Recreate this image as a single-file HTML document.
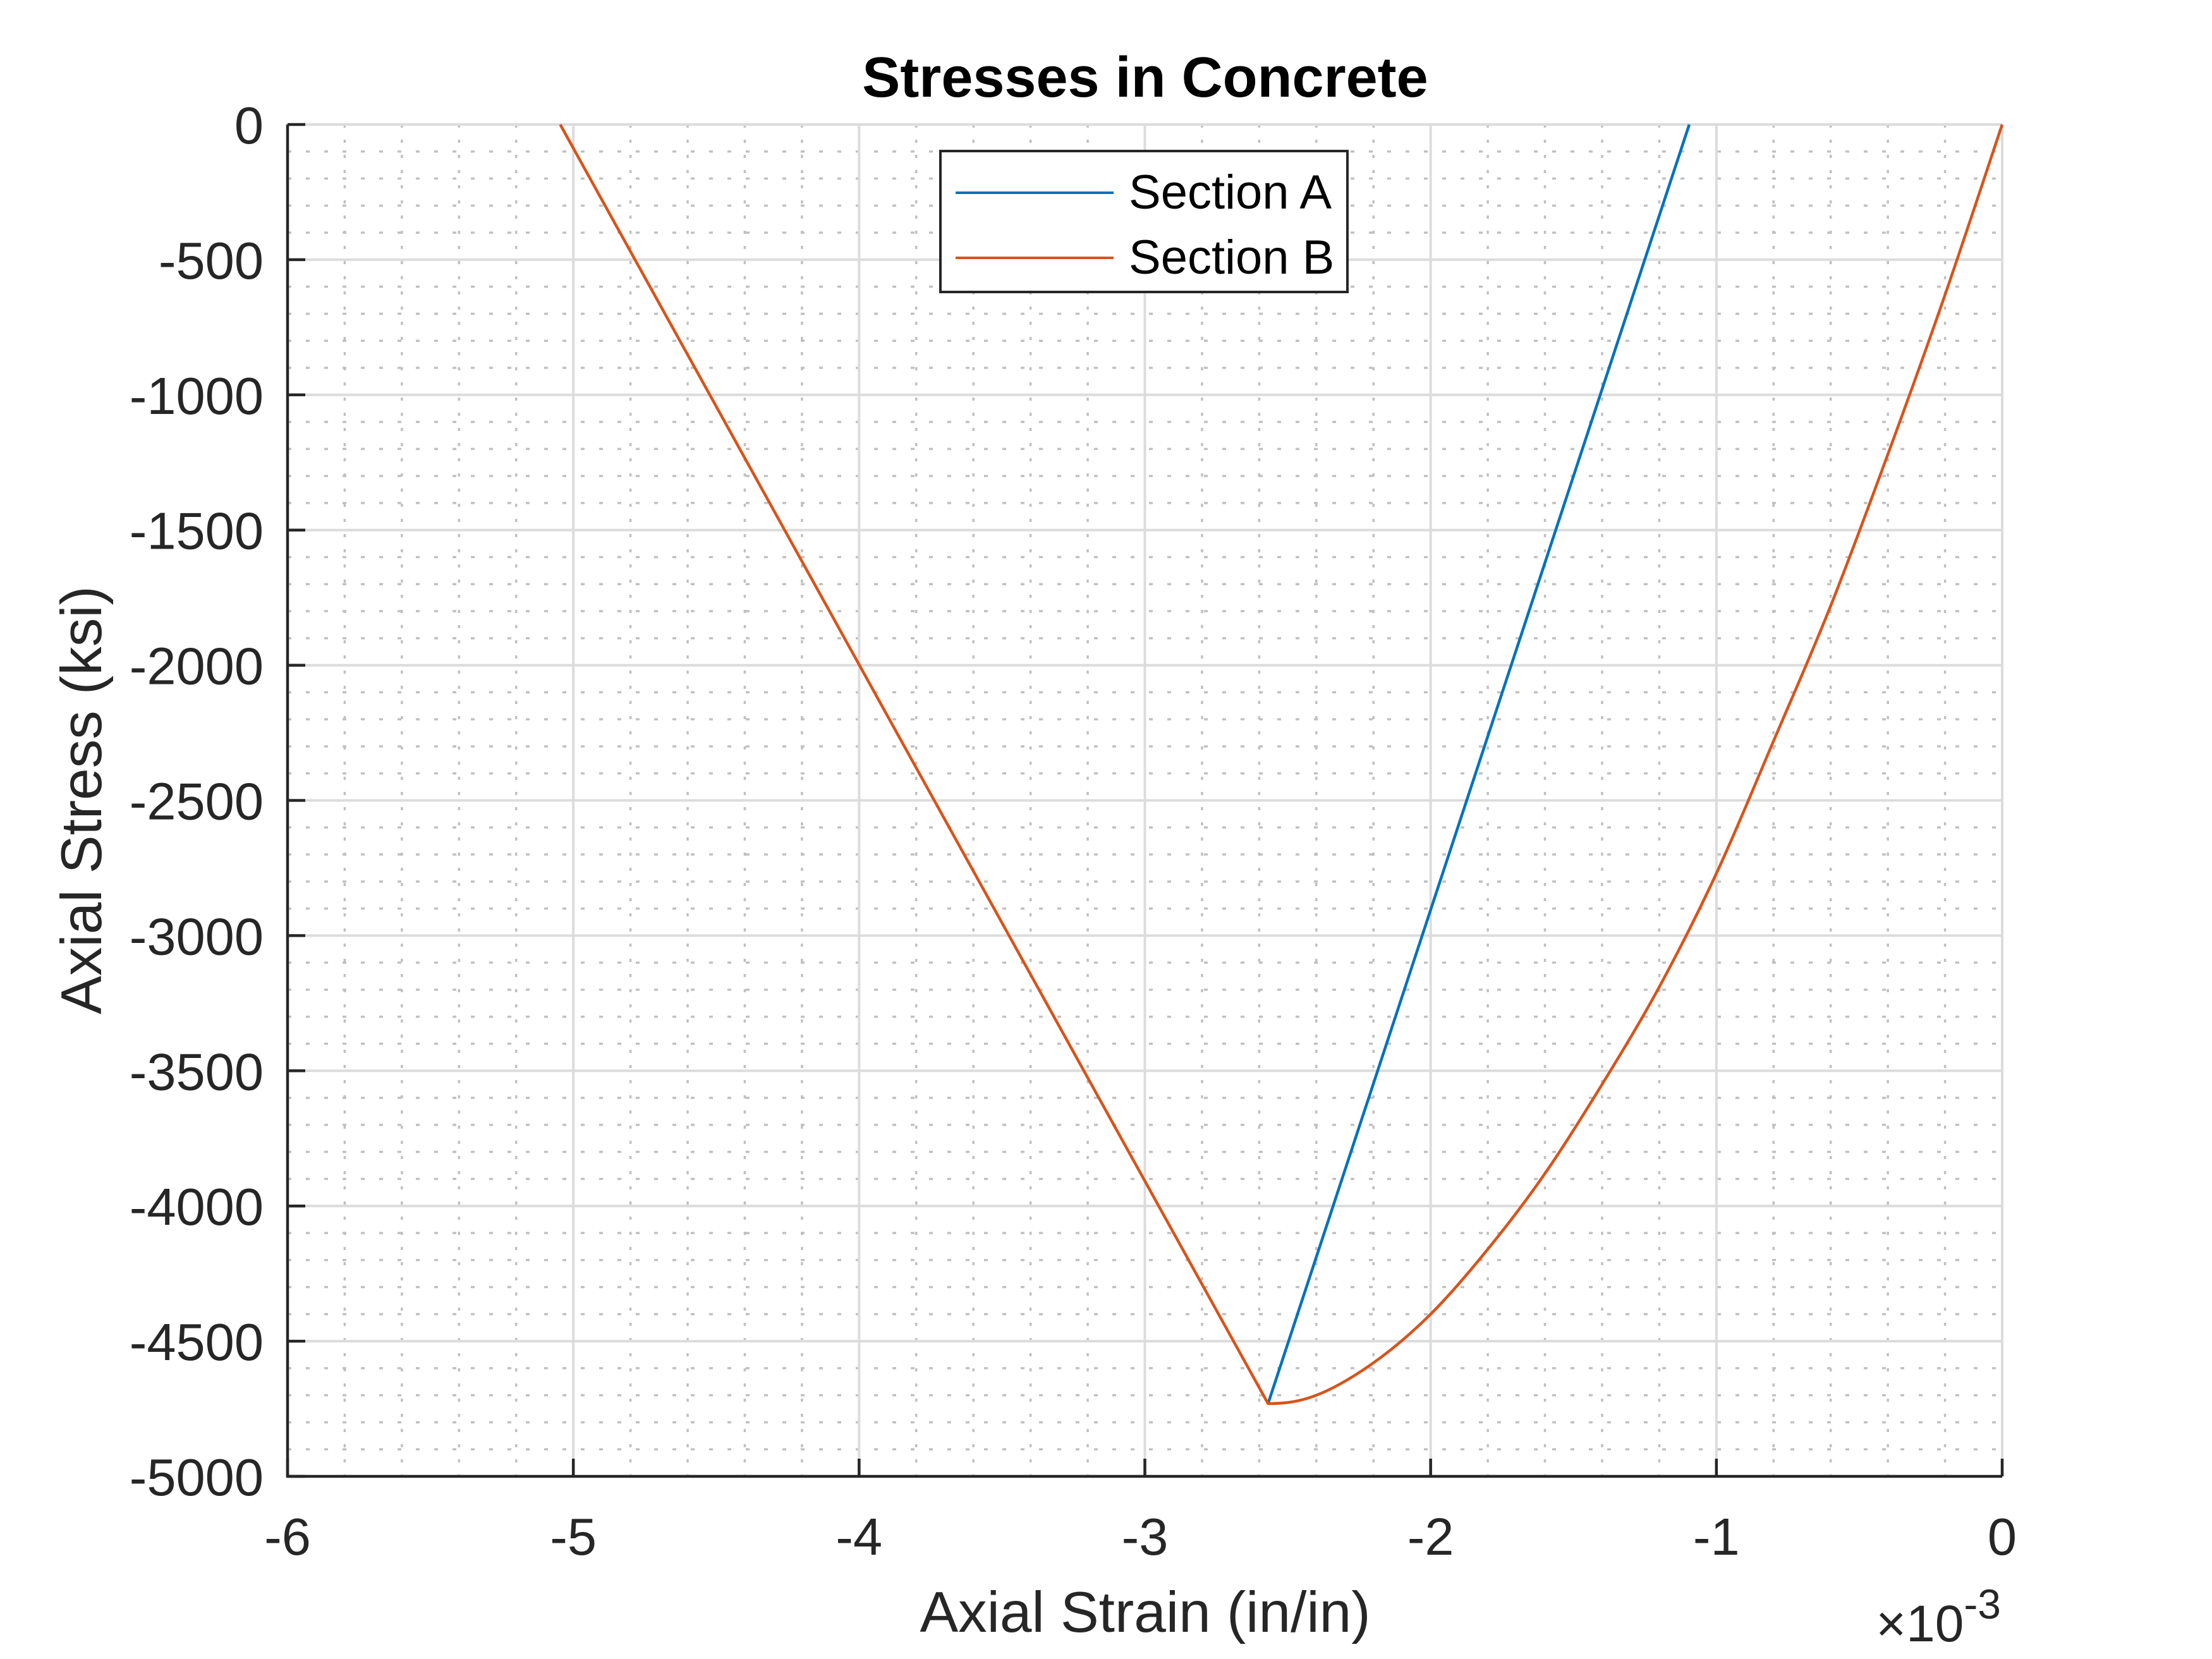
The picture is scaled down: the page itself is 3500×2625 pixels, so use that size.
<!DOCTYPE html>
<html><head><meta charset="utf-8"><style>
html,body{margin:0;padding:0;background:#fff;}
svg{display:block;font-family:"Liberation Sans",Arial,sans-serif;}
</style></head><body>
<svg id="chart" width="3500" height="2625" viewBox="0 0 3500 2625" xmlns="http://www.w3.org/2000/svg">
<rect x="0" y="0" width="3500" height="2625" fill="#fff"/>
<g id="grid"></g>
<g id="series"></g>
<g id="axes"></g>
<text x="1812" y="153" font-size="90" font-weight="bold" text-anchor="middle" fill="#000">Stresses in Concrete</text>
<text x="1812" y="2582" font-size="91" text-anchor="middle" fill="#262626">Axial Strain (in/in)</text>
<text transform="translate(160,1266) rotate(-90)" font-size="91" text-anchor="middle" fill="#262626">Axial Stress (ksi)</text>
<text x="3166" y="2597" font-size="82" text-anchor="end" fill="#262626">×10<tspan font-size="66" dy="-36">-3</tspan></text>
<g>
<rect x="1488" y="239" width="644" height="223" fill="#fff" stroke="#262626" stroke-width="4"/>
<line x1="1512" y1="305" x2="1762" y2="305" stroke="#0072BD" stroke-width="4"/>
<text x="1786" y="330" font-size="76" fill="#000">Section A</text>
<line x1="1512" y1="408" x2="1762" y2="408" stroke="#D95319" stroke-width="4"/>
<text x="1786" y="433" font-size="76" fill="#000">Section B</text>
</g>
</svg>
<script>
const xTicks = [-6,-5,-4,-3,-2,-1,0];
const xTickLabels = ["-6","-5","-4","-3","-2","-1","0"];
const yTicks = [0,-500,-1000,-1500,-2000,-2500,-3000,-3500,-4000,-4500,-5000];
const yTickLabels = ["0","-500","-1000","-1500","-2000","-2500","-3000","-3500","-4000","-4500","-5000"];
const sectionAStrain = [-2.569,-1.095];
const sectionAStress = [-4731,0];
const sectionBStrain = [-5.046,-2.569,-2.4,-2.2,-2.0,-1.8,-1.6,-1.4,-1.2,-1.0,-0.8,-0.6,-0.4,-0.2,0];
const sectionBStress = [0,-4731,-4700,-4580,-4400,-4160,-3880,-3550,-3190,-2770,-2280,-1780,-1220,-630,0];

const L=455,R=3168,T=197,B=2336;
const xMin=-6,xMax=0,yMin=-5000,yMax=0;
const sx=v=>L+(v-xMin)/(xMax-xMin)*(R-L);
const sy=v=>T+(yMax-v)/(yMax-yMin)*(B-T);
const NS='http://www.w3.org/2000/svg';
function mk(tag,parent,attrs){const e=document.createElementNS(NS,tag);for(const k in attrs)e.setAttribute(k,attrs[k]);parent.appendChild(e);return e;}
const grid=document.getElementById('grid'),series=document.getElementById('series'),axes=document.getElementById('axes');

for(let i=0;i<=30;i++){ if(i%5===0)continue; const v=xMin+i*0.2;
  const l=mk('line',grid,{x1:sx(v),y1:T,x2:sx(v),y2:B,stroke:'#c0c0c0','stroke-width':3.5,'stroke-dasharray':'5 19'});
  
  
}
for(let i=0;i<=50;i++){ if(i%5===0)continue; const v=-i*100;
  const l=mk('line',grid,{x1:L,y1:sy(v),x2:R,y2:sy(v),stroke:'#c0c0c0','stroke-width':3.5,'stroke-dasharray':'6 23'});
  
  
}
xTicks.forEach(v=>{
  const l=mk('line',grid,{x1:sx(v),y1:T,x2:sx(v),y2:B,stroke:'#dcdcdc','stroke-width':4});
  
  
});
yTicks.forEach(v=>{
  const l=mk('line',grid,{x1:L,y1:sy(v),x2:R,y2:sy(v),stroke:'#dcdcdc','stroke-width':4});
  
  
});

function linePath(xs,ys){return xs.map((x,i)=>(i?'L':'M')+sx(x).toFixed(1)+' '+sy(ys[i]).toFixed(1)).join(' ');}
function smoothPath(xs,ys,start){
  const P=xs.map((x,i)=>[sx(x),sy(ys[i])]);
  let d='M'+P[0][0].toFixed(1)+' '+P[0][1].toFixed(1);
  for(let i=1;i<P.length;i++){
    if(i<=start){d+=' L'+P[i][0].toFixed(1)+' '+P[i][1].toFixed(1);continue;}
    const p0=P[Math.max(i-2,start)],p1=P[i-1],p2=P[i],p3=P[Math.min(i+1,P.length-1)];
    let c1;
    if(i-1===start){c1=[p1[0]+(p2[0]-p1[0])/3,p1[1]];}
    else c1=[p1[0]+(p2[0]-p0[0])/6,p1[1]+(p2[1]-p0[1])/6];
    const c2=[p2[0]-(p3[0]-p1[0])/6,p2[1]-(p3[1]-p1[1])/6];
    d+=' C'+c1.map(v=>v.toFixed(1)).join(' ')+' '+c2.map(v=>v.toFixed(1)).join(' ')+' '+p2[0].toFixed(1)+' '+p2[1].toFixed(1);
  }
  return d;
}
const pA=mk('path',series,{d:linePath(sectionAStrain,sectionAStress),fill:'none',stroke:'#0072BD','stroke-width':4.5,'stroke-linejoin':'round'});


const pB=mk('path',series,{d:smoothPath(sectionBStrain,sectionBStress,1),fill:'none',stroke:'#D95319','stroke-width':4.5,'stroke-linejoin':'round'});



const ax=mk('path',axes,{d:`M${L} ${T} L${L} ${B} L${R} ${B}`,fill:'none',stroke:'#262626','stroke-width':4.5});


xTicks.forEach((v,i)=>{
  const t=mk('line',axes,{x1:sx(v),y1:B,x2:sx(v),y2:B-28,stroke:'#262626','stroke-width':4.5});
  
  
  const tx=mk('text',axes,{x:sx(v),y:2460,'font-size':83,'text-anchor':'middle',fill:'#262626'});
  tx.textContent=xTickLabels[i];
  
  
});
yTicks.forEach((v,i)=>{
  const t=mk('line',axes,{x1:L,y1:sy(v),x2:L+28,y2:sy(v),stroke:'#262626','stroke-width':4.5});
  
  
  const tx=mk('text',axes,{x:417,y:sy(v)+30,'font-size':83,'text-anchor':'end',fill:'#262626'});
  tx.textContent=yTickLabels[i];
  
  
});
</script>
</body></html>
